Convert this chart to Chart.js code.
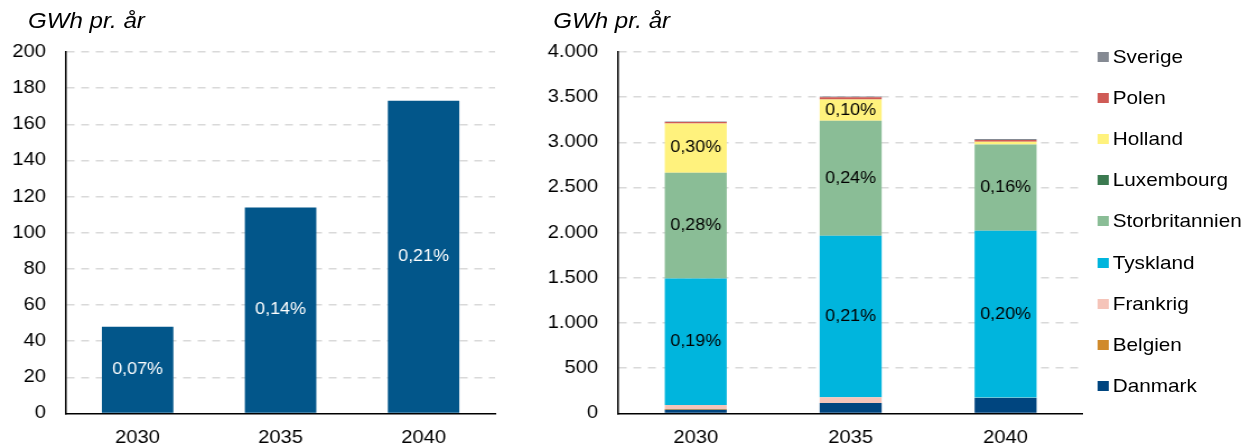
<!DOCTYPE html>
<html lang="da">
<head>
<meta charset="utf-8">
<script src="https://cdn.jsdelivr.net/npm/chart.js@4.4.0/dist/chart.umd.min.js"></script>
<style>
html, body { margin: 0; padding: 0; background: #fff; overflow: hidden; }
#wrap { position: relative; width: 1114px; height: 446px; transform: scaleX(1.12); transform-origin: 0 0; font-family: "Liberation Sans", Arial, sans-serif; }
.enhed { position: absolute; top: 11px; font-size: 21.5px; line-height: 21.5px; font-style: italic; color: #000; white-space: nowrap; }
#c1 { position: absolute; left: -17px; top: 0; }
#c2 { position: absolute; left: 461px; top: 0; }
#legende { position: absolute; left: 980px; top: 36.5px; }
#legende .item { display: flex; align-items: center; height: 41.1px; font-size: 18.5px; color: #000; white-space: nowrap; }
#legende .boks { width: 10px; height: 10px; margin-right: 3.5px; }
</style>
</head>
<body>
<div id="wrap">
  <div class="enhed" style="left:25px">GWh pr. år</div>
  <div class="enhed" style="left:494px">GWh pr. år</div>
  <canvas id="c1" width="469" height="463"></canvas>
  <canvas id="c2" width="506" height="463"></canvas>
  <div id="legende"></div>
</div>
<script>
// Årstal
const aar = ["2030", "2035", "2040"];

// Venstre graf: samlet (GWh pr. år)
const samlet = [48, 114, 173];
const samletPct = ["0,07%", "0,14%", "0,21%"];

// Højre graf: fordelt på lande (GWh pr. år), nederst til øverst
const danmark = [40, 114, 170];
const belgien = [8, 0, 0];
const frankrig = [45, 66, 4];
const tyskland = [1399, 1787, 1848];
const storbritannien = [1171, 1271, 955];
const luxembourg = [0, 0, 0];
const holland = [547, 235, 30];
const polen = [15, 27, 20];
const sverige = [6, 8, 10];

// Andele skrevet i felterne
const tysklandPct = ["0,19%", "0,21%", "0,20%"];
const storbritannienPct = ["0,28%", "0,24%", "0,16%"];
const hollandPct = ["0,30%", "0,10%", ""];

Chart.defaults.font.family = '"Liberation Sans", Arial, sans-serif';
Chart.defaults.color = "#000";

// skriver procenter midt i søjlerne
const pctPlugin = {
  id: "pct",
  afterDatasetsDraw(chart) {
    const ctx = chart.ctx;
    chart.data.datasets.forEach((ds, i) => {
      if (!ds.pct) return;
      const meta = chart.getDatasetMeta(i);
      meta.data.forEach((bar, j) => {
        const txt = ds.pct[j];
        if (!txt) return;
        ctx.save();
        ctx.font = '16px "Liberation Sans", Arial, sans-serif';
        ctx.fillStyle = ds.pctColor || "#000";
        ctx.textAlign = "center";
        ctx.textBaseline = "middle";
        ctx.fillText(txt, bar.x, (bar.y + bar.base) / 2);
        ctx.restore();
      });
    });
  }
};

const prikGrid = {
  drawTicks: false,
  lineWidth: 1.5,
  color: c => (c.tick && c.tick.value === 0) ? "rgba(0,0,0,0)" : "#d9d9d9"
};

const xAkse = {
  grid: { display: false, drawTicks: false },
  border: { color: "#000", width: 1.5 },
  ticks: { font: { size: 18 }, color: "#000", padding: 14 }
};

const tusind = v => String(v).replace(/\B(?=(\d{3})+(?!\d))/g, ".");

// Venstre graf
new Chart(document.getElementById("c1"), {
  type: "bar",
  data: {
    labels: aar,
    datasets: [{
      data: samlet,
      backgroundColor: "#02568a",
      pct: samletPct,
      pctColor: "#fff",
      barPercentage: 0.5,
      categoryPercentage: 1
    }]
  },
  options: {
    responsive: false,
    animation: false,
    layout: { padding: { top: 52, left: 10, right: 10, bottom: 0 } },
    plugins: { legend: { display: false }, tooltip: { enabled: false } },
    scales: {
      x: xAkse,
      y: {
        min: 0, max: 200,
        ticks: { stepSize: 20, font: { size: 18 }, color: "#000", padding: 18 },
        grid: prikGrid,
        border: { color: "#000", width: 1.5, dash: [7, 6] }
      }
    }
  },
  plugins: [pctPlugin]
});

// Højre graf
const lande = [
  { label: "Danmark", data: danmark, backgroundColor: "#00457f" },
  { label: "Belgien", data: belgien, backgroundColor: "#d08a2b" },
  { label: "Frankrig", data: frankrig, backgroundColor: "#f5c4b9" },
  { label: "Tyskland", data: tyskland, backgroundColor: "#00b5dd", pct: tysklandPct },
  { label: "Storbritannien", data: storbritannien, backgroundColor: "#8abd96", pct: storbritannienPct },
  { label: "Luxembourg", data: luxembourg, backgroundColor: "#3b7a50" },
  { label: "Holland", data: holland, backgroundColor: "#fff27d", pct: hollandPct },
  { label: "Polen", data: polen, backgroundColor: "#cf5b56" },
  { label: "Sverige", data: sverige, backgroundColor: "#858a93" }
].map(d => Object.assign(d, { barPercentage: 0.4, categoryPercentage: 1 }));

const landeChart = new Chart(document.getElementById("c2"), {
  type: "bar",
  data: { labels: aar, datasets: lande },
  options: {
    responsive: false,
    animation: false,
    layout: { padding: { top: 52, left: 10, right: 0, bottom: 0 } },
    plugins: { tooltip: { enabled: false }, legend: { display: false } },
    scales: {
      x: Object.assign({ stacked: true }, xAkse),
      y: {
        stacked: true,
        min: 0, max: 4000,
        ticks: { stepSize: 500, font: { size: 18 }, color: "#000", padding: 18, callback: tusind },
        grid: prikGrid,
        border: { color: "#000", width: 1.5, dash: [7, 6] }
      }
    }
  },
  plugins: [pctPlugin]
});

// Legende (øverste serie først)
const legende = document.getElementById("legende");
landeChart.data.datasets.slice().reverse().forEach(ds => {
  const item = document.createElement("div");
  item.className = "item";
  const boks = document.createElement("span");
  boks.className = "boks";
  boks.style.background = ds.backgroundColor;
  item.appendChild(boks);
  item.appendChild(document.createTextNode(ds.label));
  legende.appendChild(item);
});
</script>
</body>
</html>
